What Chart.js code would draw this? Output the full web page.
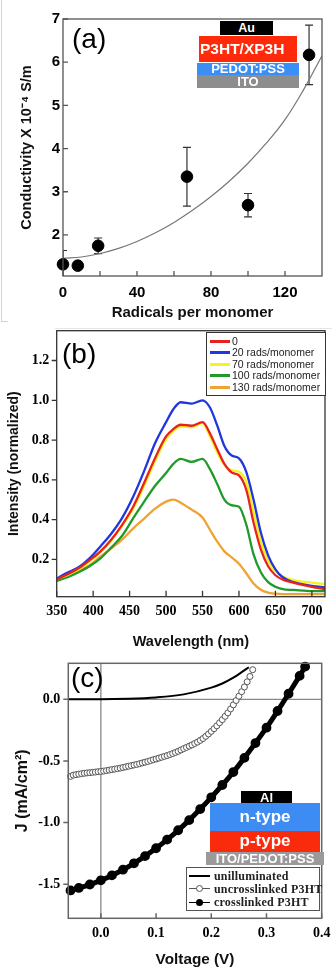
<!DOCTYPE html>
<html lang="en">
<head>
<meta charset="UTF-8">
<title>P3HT crosslinking: conductivity, PL and J-V</title>
<script src="https://cdn.jsdelivr.net/npm/chart.js"></script>
<style>
  body { margin: 0; background: #fff; }
  #page { position: relative; width: 332px; height: 968px; overflow: hidden; font-family: "Liberation Sans", Arial, sans-serif; }
  canvas { position: absolute; left: 0; }
  .box { position: absolute; color: #fff; font-weight: bold; text-align: center; white-space: nowrap; }
  .tag { position: absolute; font-size: 28px; line-height: 1; color: #000; }
  .rule { position: absolute; background: #d4d4d4; }
  .leg { position: absolute; background: #fff; box-sizing: border-box; }
  .leg span { position: absolute; white-space: nowrap; }
  .sw { position: absolute; }
</style>
</head>
<body>
<div id="page">
  <canvas id="chartA" width="332" height="330" style="top:0"></canvas>
  <canvas id="chartB" width="332" height="330" style="top:322px"></canvas>
  <canvas id="chartC" width="332" height="318" style="top:650px"></canvas>

  <div class="rule" style="left:1px;top:0;width:1px;height:322px"></div>
  <div class="rule" style="left:1px;top:321px;width:7px;height:1px"></div>
  <div class="rule" style="left:55px;top:328px;width:277px;height:1px;background:#e6e6e6"></div>

  <div class="tag" style="left:72px;top:25px">(a)</div>
  <div class="tag" style="left:62px;top:340px">(b)</div>
  <div class="tag" style="left:71px;top:664px">(c)</div>

  <!-- device stack, panel a -->
  <div class="box" style="left:220px;top:21px;width:53px;height:14px;background:#000;font-size:12.5px;line-height:14px">Au</div>
  <div class="box" style="left:199px;top:36px;width:97px;height:26px;background:#ff2a0a;font-size:15.5px;line-height:26px;text-align:left;padding-left:1px">P3HT/XP3H</div>
  <div class="box" style="left:197px;top:63px;width:102px;height:12px;background:#3b8ef4;font-size:13px;line-height:12px">PEDOT:PSS</div>
  <div class="box" style="left:197px;top:75px;width:102px;height:13px;background:#8d8d8d;font-size:13px;line-height:13px">ITO</div>

  <!-- legend, panel b -->
  <div class="leg" style="left:206px;top:332px;width:120px;height:64px;border:1.5px solid #333;font-size:10.5px;color:#222;line-height:12px">
    <div class="sw" style="left:3px;top:7px;width:20px;height:3px;background:#e8231b"></div><span style="left:25px;top:2px">0</span>
    <div class="sw" style="left:3px;top:18px;width:20px;height:3px;background:#2136dc"></div><span style="left:25px;top:13px">20 rads/monomer</span>
    <div class="sw" style="left:3px;top:30px;width:20px;height:3px;background:#f5f21c"></div><span style="left:25px;top:25px">70 rads/monomer</span>
    <div class="sw" style="left:3px;top:41px;width:20px;height:3px;background:#1f9a2b"></div><span style="left:25px;top:36px">100 rads/monomer</span>
    <div class="sw" style="left:3px;top:53px;width:20px;height:3px;background:#f0a232"></div><span style="left:25px;top:48px">130 rads/monomer</span>
  </div>

  <!-- device stack, panel c -->
  <div class="box" style="left:241px;top:791px;width:51px;height:13px;background:#000;font-size:13px;line-height:13px">Al</div>
  <div class="box" style="left:210px;top:803px;width:110px;height:28px;background:#3c8cf4;font-size:17px;line-height:27px">n-type</div>
  <div class="box" style="left:210px;top:831px;width:110px;height:21px;background:#fa2a0c;font-size:17px;line-height:20px">p-type</div>
  <div class="box" style="left:206px;top:852px;width:118px;height:13px;background:#9a9a9a;font-size:13px;line-height:13px">ITO/PEDOT:PSS</div>

  <!-- legend, panel c -->
  <div class="leg" style="left:186px;top:867px;width:134px;height:44px;border:1.5px solid #555;font-family:'Liberation Serif',serif;font-weight:bold;font-size:12px;letter-spacing:0.2px;color:#222;line-height:14px">
    <div class="sw" style="left:2px;top:7px;width:21px;height:2px;background:#000"></div><span style="left:27px;top:1px">unilluminated</span>
    <div class="sw" style="left:2px;top:20px;width:21px;height:1px;background:#555"></div>
    <div class="sw" style="left:9px;top:17px;width:5px;height:5px;border:1px solid #555;border-radius:50%;background:#fff"></div><span style="left:27px;top:14px">uncrosslinked P3HT</span>
    <div class="sw" style="left:2px;top:34px;width:21px;height:1px;background:#000"></div>
    <div class="sw" style="left:9px;top:31px;width:7px;height:7px;border-radius:50%;background:#000"></div><span style="left:27px;top:27px">crosslinked P3HT</span>
  </div>
</div>

<script>
// ---- panel (a): conductivity vs radical dose
const radicals = [0, 8, 19, 67, 100, 133];
const conductivity = [1.32, 1.29, 1.75, 3.35, 2.69, 6.17];
const condErr = [0.32, 0, 0.18, 0.68, 0.27, 0.69];
const fitX = [0, 10, 20, 30, 40, 50, 60, 70, 80, 90, 100, 110, 120, 130, 140];
const fitY = [1.46, 1.49, 1.57, 1.69, 1.85, 2.05, 2.29, 2.57, 2.89, 3.25, 3.66, 4.13, 4.67, 5.36, 6.15];
const radTicks = [0, 40, 80, 120];
const radMinor = [20, 60, 100];
const condTicks = [2, 3, 4, 5, 6, 7];

// ---- panel (b): emission spectra
const wavelength = [350, 365, 380, 395, 410, 425, 440, 455, 470, 485, 500, 510, 520, 535, 550, 560, 570, 580, 590, 600, 610, 620, 630, 640, 650, 660, 675, 700, 718];
const int0 = [0.10, 0.125, 0.155, 0.195, 0.24, 0.30, 0.375, 0.466, 0.585, 0.71, 0.818, 0.855, 0.877, 0.872, 0.89, 0.835, 0.755, 0.68, 0.637, 0.622, 0.55, 0.385, 0.25, 0.165, 0.12, 0.098, 0.082, 0.062, 0.05];
const int20 = [0.104, 0.133, 0.16, 0.205, 0.265, 0.33, 0.41, 0.516, 0.645, 0.785, 0.89, 0.955, 0.99, 0.983, 1.0, 0.965, 0.875, 0.77, 0.722, 0.708, 0.64, 0.50, 0.335, 0.22, 0.15, 0.11, 0.085, 0.067, 0.058];
const int70 = [0.10, 0.122, 0.15, 0.19, 0.235, 0.295, 0.37, 0.455, 0.57, 0.695, 0.805, 0.845, 0.868, 0.865, 0.885, 0.82, 0.74, 0.675, 0.648, 0.64, 0.59, 0.44, 0.29, 0.195, 0.14, 0.113, 0.095, 0.083, 0.076];
const int100 = [0.092, 0.11, 0.135, 0.165, 0.205, 0.26, 0.32, 0.407, 0.49, 0.57, 0.634, 0.68, 0.705, 0.69, 0.705, 0.655, 0.58, 0.50, 0.472, 0.465, 0.375, 0.225, 0.135, 0.085, 0.062, 0.05, 0.046, 0.04, 0.04];
const int130 = [0.095, 0.115, 0.14, 0.17, 0.213, 0.255, 0.30, 0.356, 0.405, 0.455, 0.49, 0.50, 0.485, 0.45, 0.41, 0.35, 0.29, 0.24, 0.21, 0.178, 0.13, 0.078, 0.047, 0.032, 0.027, 0.025, 0.025, 0.025, 0.025];
const wlTicks = [350, 400, 450, 500, 550, 600, 650, 700];
const intTicks = [0.2, 0.4, 0.6, 0.8, 1.0, 1.2];

// ---- panel (c): J-V curves
const vDark = [-0.058, 0, 0.05, 0.1, 0.15, 0.2, 0.22, 0.24, 0.255, 0.268];
const jDark = [0, 0, 0.004, 0.015, 0.04, 0.095, 0.128, 0.175, 0.22, 0.26];
const vUncross = [-0.055, -0.05, -0.045, -0.04, -0.035, -0.03, -0.025, -0.02, -0.015, -0.01, -0.005, 0,
  0.005, 0.01, 0.015, 0.02, 0.025, 0.03, 0.035, 0.04, 0.045, 0.05, 0.055, 0.06, 0.065, 0.07, 0.075, 0.08,
  0.085, 0.09, 0.095, 0.10, 0.105, 0.11, 0.115, 0.12, 0.125, 0.13, 0.135, 0.14, 0.145, 0.15, 0.155, 0.16,
  0.165, 0.17, 0.175, 0.18, 0.185, 0.19, 0.195, 0.20, 0.205, 0.21, 0.215, 0.22, 0.225, 0.23, 0.235, 0.24,
  0.245, 0.25, 0.255, 0.26, 0.265, 0.27, 0.275];
const jUncross = [-0.625, -0.615, -0.611, -0.607, -0.603, -0.60, -0.597, -0.595, -0.592, -0.59, -0.587, -0.585,
  -0.582, -0.578, -0.574, -0.57, -0.566, -0.562, -0.558, -0.553, -0.548, -0.543, -0.538, -0.533, -0.528, -0.522, -0.516, -0.51,
  -0.504, -0.497, -0.49, -0.484, -0.477, -0.47, -0.463, -0.456, -0.448, -0.44, -0.431, -0.422, -0.411, -0.40, -0.39, -0.38,
  -0.37, -0.358, -0.347, -0.333, -0.318, -0.30, -0.281, -0.26, -0.238, -0.215, -0.19, -0.165, -0.138, -0.11, -0.078, -0.045,
  -0.01, 0.025, 0.062, 0.10, 0.142, 0.185, 0.24];
const vCross = [-0.055, -0.04, -0.02, 0, 0.02, 0.04, 0.06, 0.08, 0.10, 0.12, 0.14, 0.16, 0.18, 0.20, 0.22, 0.24, 0.26, 0.28, 0.30, 0.32, 0.34, 0.36, 0.37];
const jCross = [-1.55, -1.53, -1.502, -1.468, -1.428, -1.382, -1.33, -1.272, -1.208, -1.138, -1.062, -0.98, -0.89, -0.795, -0.695, -0.59, -0.475, -0.355, -0.23, -0.095, 0.045, 0.19, 0.265];
const voltTicks = [0, 0.1, 0.2, 0.3, 0.4];
const jTicks = [0, -0.5, -1.0, -1.5];

const pts = (xs, ys) => xs.map((x, i) => ({ x, y: ys[i] }));
const sans = "'Liberation Sans', Arial, sans-serif";
const serif = "'Liberation Serif', 'Times New Roman', serif";

// frame, tick marks, zero lines and error bars
const decor = {
  id: 'decor',
  beforeDatasetsDraw(chart, args, o) {
    const { ctx, chartArea: a, scales: { x, y } } = chart;
    ctx.save();
    if (o.zero) {
      ctx.strokeStyle = o.zero;
      ctx.lineWidth = 1.3;
      const px = x.getPixelForValue(0), py = y.getPixelForValue(0);
      ctx.beginPath();
      ctx.moveTo(px, a.top); ctx.lineTo(px, a.bottom);
      ctx.moveTo(a.left, py); ctx.lineTo(a.right, py);
      ctx.stroke();
    }
    if (o.err) {
      ctx.beginPath();
      ctx.rect(a.left, a.top, a.right - a.left, a.bottom - a.top);
      ctx.clip();
      ctx.strokeStyle = '#333';
      ctx.lineWidth = 1.2;
      o.err.x.forEach((xv, i) => {
        const e = o.err.e[i];
        if (!e) return;
        const px = x.getPixelForValue(xv);
        const y1 = y.getPixelForValue(o.err.y[i] + e), y2 = y.getPixelForValue(o.err.y[i] - e);
        ctx.beginPath();
        ctx.moveTo(px, y1); ctx.lineTo(px, y2);
        ctx.moveTo(px - 4, y1); ctx.lineTo(px + 4, y1);
        ctx.moveTo(px - 4, y2); ctx.lineTo(px + 4, y2);
        ctx.stroke();
      });
    }
    ctx.restore();
  },
  afterDatasetsDraw(chart, args, o) {
    if (!o.frame) return;
    const { ctx, chartArea: a, scales: { x, y } } = chart;
    ctx.save();
    ctx.strokeStyle = o.frame;
    ctx.lineWidth = o.fw || 1.3;
    ctx.strokeRect(a.left, a.top, a.right - a.left, a.bottom - a.top);
    ctx.beginPath();
    (o.xt || []).forEach(v => {
      const p = x.getPixelForValue(v);
      ctx.moveTo(p, a.bottom); ctx.lineTo(p, a.bottom - o.xl);
    });
    (o.yt || []).forEach(v => {
      const p = y.getPixelForValue(v);
      ctx.moveTo(a.left, p); ctx.lineTo(a.left + o.yl, p);
    });
    ctx.stroke();
    ctx.restore();
  }
};
Chart.register(decor);

function axis(opts) {
  return {
    type: 'linear',
    min: opts.min, max: opts.max,
    grid: { display: false, drawTicks: false },
    border: { display: false },
    afterBuildTicks: s => { s.ticks = opts.ticks.map(v => ({ value: v })); },
    afterFit: s => {
      if (opts.h) { s.height = opts.h; s.paddingLeft = 0; s.paddingRight = 0; }
      if (opts.w) { s.width = opts.w; s.paddingTop = 0; s.paddingBottom = 0; }
    },
    ticks: {
      color: '#000', padding: opts.pad, font: opts.font,
      callback: opts.fmt || (v => String(v))
    },
    title: { display: true, text: opts.title, color: '#111', font: opts.tfont, padding: opts.tpad }
  };
}

const base = {
  responsive: false, animation: false, devicePixelRatio: 1, events: [],
};

// (a)
new Chart(document.getElementById('chartA'), {
  type: 'scatter',
  data: {
    datasets: [
      { data: pts(radicals, conductivity), pointRadius: 5.8, pointBackgroundColor: '#000', pointBorderColor: '#000', showLine: false, clip: false },
      { data: pts(fitX, fitY), showLine: true, pointRadius: 0, borderColor: '#777', borderWidth: 1.2, tension: 0.4 }
    ]
  },
  options: {
    ...base,
    layout: { padding: { left: 0, right: 10, top: 19, bottom: 0 } },
    scales: {
      x: axis({ min: 0, max: 140, ticks: radTicks, h: 54, pad: 8, font: { family: sans, weight: 'bold', size: 15 },
        title: 'Radicals per monomer', tfont: { family: sans, weight: 'bold', size: 15 }, tpad: { top: 0, bottom: 8 } }),
      y: axis({ min: 1.05, max: 7, ticks: condTicks, w: 63, pad: 3, font: { family: sans, weight: 'bold', size: 15 },
        title: 'Conductivity X 10⁻⁴ S/m', tfont: { family: sans, weight: 'bold', size: 14.5 }, tpad: { top: 18, bottom: 0 } })
    },
    plugins: {
      legend: { display: false }, tooltip: { enabled: false },
      decor: { frame: '#555', fw: 1.3, xt: radTicks.concat(radMinor), xl: 5, yt: condTicks, yl: 5,
        err: { x: radicals, y: conductivity, e: condErr } }
    }
  }
});

// (b)
const lineSet = (ys, color) => ({ data: pts(wavelength, ys), showLine: true, pointRadius: 0, borderColor: color, borderWidth: 2.3, cubicInterpolationMode: 'monotone' });
new Chart(document.getElementById('chartB'), {
  type: 'scatter',
  data: {
    datasets: [
      lineSet(int0, '#e8231b'),
      lineSet(int20, '#2136dc'),
      lineSet(int70, '#f5f21c'),
      lineSet(int100, '#1f9a2b'),
      lineSet(int130, '#f0a232')
    ]
  },
  options: {
    ...base,
    layout: { padding: { left: 0, right: 7, top: 8.7, bottom: 0 } },
    scales: {
      x: axis({ min: 350, max: 718, ticks: wlTicks, h: 55.3, pad: 6.6, font: { family: serif, weight: 'bold', size: 14 },
        title: 'Wavelength (nm)', tfont: { family: sans, weight: 'bold', size: 14.5 }, tpad: { top: 0, bottom: 1.6 } }),
      y: axis({ min: 0.012, max: 1.35, ticks: intTicks, w: 56.7, pad: 7.4, font: { family: serif, weight: 'bold', size: 14 },
        fmt: v => v.toFixed(1),
        title: 'Intensity (normalized)', tfont: { family: sans, weight: 'bold', size: 14 }, tpad: { top: 6, bottom: 0 } })
    },
    plugins: {
      legend: { display: false }, tooltip: { enabled: false },
      decor: { frame: '#333', fw: 1.3, xt: wlTicks, xl: 6, yt: intTicks, yl: -5 }
    }
  }
});

// (c)
new Chart(document.getElementById('chartC'), {
  type: 'scatter',
  data: {
    datasets: [
      { data: pts(vDark, jDark), showLine: true, pointRadius: 0, borderColor: '#000', borderWidth: 2, cubicInterpolationMode: 'monotone' },
      { data: pts(vUncross, jUncross), showLine: true, borderColor: '#666', borderWidth: 1, pointRadius: 3, pointBorderWidth: 1,
        pointBorderColor: '#555', pointBackgroundColor: '#fff', cubicInterpolationMode: 'monotone', clip: false },
      { data: pts(vCross, jCross), showLine: true, borderColor: '#000', borderWidth: 5, pointRadius: 2.4,
        pointBackgroundColor: '#000', pointBorderColor: '#000', cubicInterpolationMode: 'monotone', clip: false }
    ]
  },
  options: {
    ...base,
    layout: { padding: { left: 0, right: 10.3, top: 13.3, bottom: 0 } },
    scales: {
      x: axis({ min: -0.059, max: 0.4, ticks: voltTicks, h: 49.7, pad: 6.6, font: { family: serif, weight: 'bold', size: 14 },
        fmt: v => v.toFixed(1),
        title: 'Voltage (V)', tfont: { family: sans, weight: 'bold', size: 15.3, lineHeight: 1 }, tpad: { top: 0, bottom: 0.4 } }),
      y: axis({ min: -1.776, max: 0.292, ticks: jTicks, w: 68.3, pad: 8, font: { family: serif, weight: 'bold', size: 14 },
        fmt: v => v.toFixed(1),
        title: 'J (mA/cm²)', tfont: { family: sans, weight: 'bold', size: 16 }, tpad: { top: 13.4, bottom: 0 } })
    },
    plugins: {
      legend: { display: false }, tooltip: { enabled: false },
      decor: { frame: '#666', fw: 1.5, zero: '#888', xt: voltTicks, xl: 5, yt: jTicks, yl: -5 }
    }
  }
});
</script>
</body>
</html>
